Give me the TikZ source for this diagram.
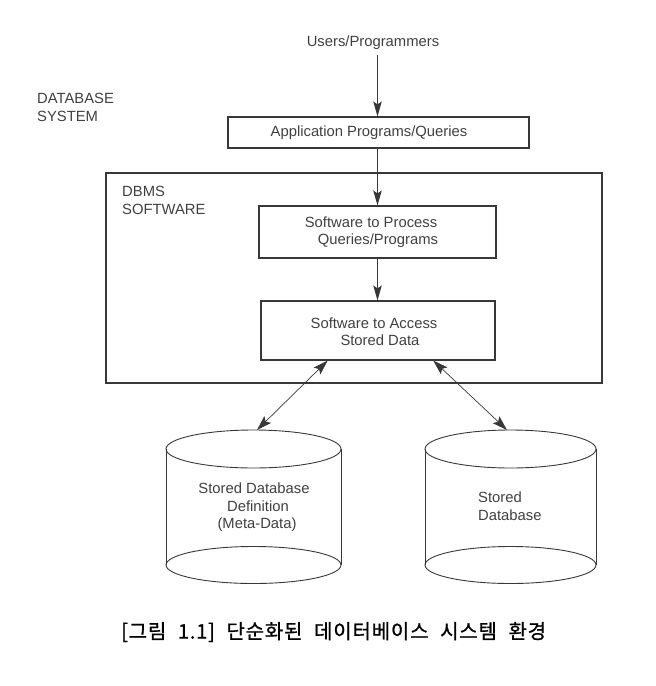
\documentclass[tikz,border=0pt]{standalone}
\usepackage{fontspec}
\setmainfont{Liberation Sans}
\newfontfamily\krfont[WordSpace=2.2,LetterSpace=4,FakeBold=1]{Noto Sans CJK KR}
\usetikzlibrary{arrows.meta,calc}
\definecolor{linegray}{gray}{0.22}
\definecolor{txtgray}{gray}{0.25}
\begin{document}
\begin{tikzpicture}[x=1pt,y=-1pt,
  lbl/.style={font=\fontsize{14.8}{17.5}\selectfont, text=txtgray, inner sep=0pt, align=center},
  sidelbl/.style={lbl, align=left, anchor=west},
  box/.style={draw=linegray, line width=1.1pt, inner sep=0pt},
  flow/.style={draw=linegray, line width=1.3pt, -{Stealth[length=15pt,width=8.5pt,inset=3pt]}},
  link/.style={draw=linegray, line width=0.7pt, {Stealth[length=15pt,width=9.5pt,inset=3pt]}-{Stealth[length=15pt,width=9.5pt,inset=3pt]}},
  cyl/.style={draw=linegray, line width=0.9pt}]
\useasboundingbox (0,0) rectangle (656,686);

% top
\node[lbl] (users) at (373,43) {Users/Programmers};
\node[sidelbl] (dbsys) at (37,107.5) {DATABASE\\SYSTEM};
\node[box, minimum width=301pt, minimum height=31pt] (app) at (378.5,132.5) {};
\node[lbl] (apptext) at (369,133) {Application Programs/Queries};

% DBMS software
\node[box, minimum width=496pt, minimum height=210pt] (dbms) at (354,278) {};
\node[sidelbl] (dbmslbl) at (122,200.5) {DBMS\\SOFTWARE};
\node[box, minimum width=237pt, minimum height=52pt] (proc) at (377.5,232) {};
\node[lbl] (proctext) at (371,232) {Software to Process\\\hspace*{14pt}Queries/Programs};
\node[box, minimum width=234pt, minimum height=59pt] (acc) at (378,330.5) {};
\node[lbl] (acctext) at (374,331.5) {Software to Access\\\hspace*{12pt}Stored Data};

% vertical flow
\coordinate (usersfoot) at (377.5,55);
\draw[flow] (usersfoot) -- (usersfoot |- app.north);
\draw[flow] (app.south -| usersfoot) -- (usersfoot |- proc.north);
\draw[flow] (proc.south -| usersfoot) -- (usersfoot |- acc.north);

% cylinders
\draw[cyl] (253.5,449) ellipse [x radius=87.5, y radius=19];
\draw[cyl] (253.5,565) ellipse [x radius=87.5, y radius=18.5];
\draw[cyl] (166,449) -- (166,565) (341,449) -- (341,565);
\node[lbl] (metatext) at (254,507.5) {Stored Database\\\hspace*{8pt}Definition\\\hspace*{6pt}(Meta-Data)};
\coordinate (metatop) at (257,430);

\draw[cyl] (510.5,449) ellipse [x radius=85.5, y radius=19];
\draw[cyl] (510.5,565) ellipse [x radius=85.5, y radius=18.5];
\draw[cyl] (425,449) -- (425,565) (596,449) -- (596,565);
\node[sidelbl] (dbtext) at (478,506) {Stored\\Database};
\coordinate (dbtop) at (507,430);

% links
\draw[link] ($(acc.south west)!0.286!(acc.south east)$) -- (metatop);
\draw[link] ($(acc.south west)!0.735!(acc.south east)$) -- (dbtop);

% caption
\node[anchor=west, inner sep=0pt, font=\fontsize{20}{23}\krfont\selectfont] (caption) at (121,632) {[그림 1.1] 단순화된 데이터베이스 시스템 환경};
\end{tikzpicture}
\end{document}
